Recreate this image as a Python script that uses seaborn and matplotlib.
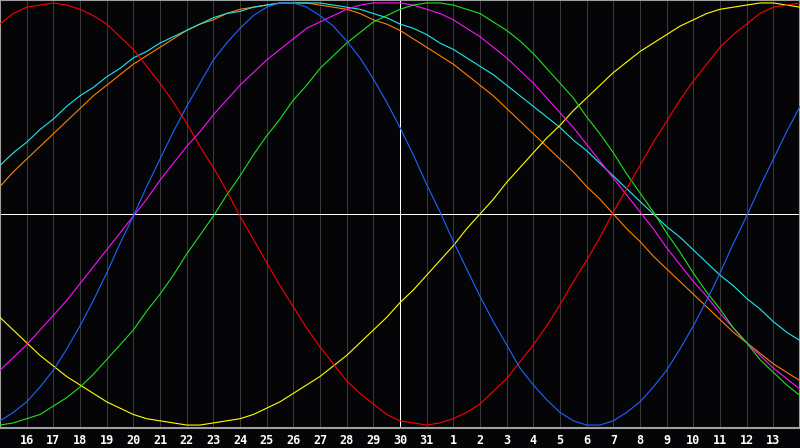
import pandas as pd
import matplotlib
matplotlib.use('Agg')
import matplotlib.pyplot as plt
import seaborn as sns

# half-day steps on the x axis (30 = today, 32 = 1st of next month)
days = [15 + i / 2 for i in range(61)]
day_labels = ['16', '17', '18', '19', '20', '21', '22', '23', '24', '25', '26', '27', '28', '29', '30', '31',
              '1', '2', '3', '4', '5', '6', '7', '8', '9', '10', '11', '12', '13']
label_days = list(range(16, 45))
today = 30

# values, every half day from day 15 to day 45
physical = [-0.98, -0.94, -0.89, -0.82, -0.74, -0.64, -0.53, -0.41, -0.28, -0.14,
            -0.01, 0.13, 0.26, 0.39, 0.51, 0.62, 0.73, 0.81, 0.88, 0.94,
            0.98, 1.00, 1.00, 0.98, 0.94, 0.89, 0.82, 0.74, 0.64, 0.53,
            0.41, 0.28, 0.14, 0.01, -0.13, -0.26, -0.39, -0.51, -0.62, -0.73,
            -0.81, -0.88, -0.94, -0.98, -1.00, -1.00, -0.98, -0.94, -0.89, -0.82,
            -0.74, -0.64, -0.53, -0.41, -0.28, -0.14, -0.01, 0.13, 0.26, 0.39, 0.51]
emotional = [0.90, 0.95, 0.98, 0.99, 1.00, 0.99, 0.97, 0.94, 0.90, 0.84,
             0.78, 0.70, 0.62, 0.53, 0.43, 0.32, 0.22, 0.11, -0.01, -0.12,
             -0.23, -0.34, -0.44, -0.54, -0.63, -0.71, -0.79, -0.85, -0.90, -0.95,
             -0.98, -0.99, -1.00, -0.99, -0.97, -0.94, -0.90, -0.84, -0.78, -0.70,
             -0.62, -0.53, -0.43, -0.32, -0.22, -0.11, 0.01, 0.12, 0.23, 0.34,
             0.44, 0.54, 0.63, 0.71, 0.79, 0.85, 0.90, 0.95, 0.98, 0.99, 1.00]
intellectual = [-1.00, -0.99, -0.97, -0.95, -0.91, -0.87, -0.82, -0.76, -0.69, -0.62,
                -0.55, -0.46, -0.38, -0.29, -0.19, -0.10, -0.01, 0.09, 0.18, 0.28,
                0.37, 0.45, 0.54, 0.61, 0.69, 0.75, 0.81, 0.86, 0.91, 0.94,
                0.97, 0.99, 1.00, 1.00, 0.99, 0.97, 0.95, 0.91, 0.87, 0.82,
                0.76, 0.69, 0.62, 0.55, 0.46, 0.38, 0.29, 0.19, 0.10, 0.01,
                -0.09, -0.18, -0.28, -0.37, -0.45, -0.54, -0.61, -0.69, -0.75, -0.81, -0.86]
intuitive = [-0.74, -0.68, -0.62, -0.55, -0.48, -0.41, -0.33, -0.25, -0.17, -0.09,
             -0.01, 0.07, 0.16, 0.24, 0.32, 0.39, 0.47, 0.54, 0.61, 0.67,
             0.73, 0.78, 0.83, 0.88, 0.91, 0.94, 0.97, 0.99, 1.00, 1.00,
             1.00, 0.99, 0.97, 0.95, 0.92, 0.88, 0.84, 0.79, 0.74, 0.68,
             0.62, 0.55, 0.48, 0.41, 0.33, 0.25, 0.17, 0.09, 0.01, -0.07,
             -0.16, -0.24, -0.32, -0.39, -0.47, -0.54, -0.61, -0.67, -0.73, -0.78, -0.83]
aesthetic = [-0.49, -0.55, -0.61, -0.67, -0.72, -0.77, -0.81, -0.85, -0.89, -0.92,
             -0.95, -0.97, -0.98, -0.99, -1.00, -1.00, -0.99, -0.98, -0.97, -0.95,
             -0.92, -0.89, -0.85, -0.81, -0.77, -0.72, -0.67, -0.61, -0.55, -0.49,
             -0.42, -0.36, -0.29, -0.22, -0.15, -0.07, 0.00, 0.07, 0.15, 0.22,
             0.29, 0.36, 0.42, 0.49, 0.55, 0.61, 0.67, 0.72, 0.77, 0.81,
             0.85, 0.89, 0.92, 0.95, 0.97, 0.98, 0.99, 1.00, 1.00, 0.99, 0.98]
awareness = [0.13, 0.20, 0.26, 0.32, 0.38, 0.44, 0.50, 0.56, 0.61, 0.66,
             0.71, 0.75, 0.79, 0.83, 0.87, 0.90, 0.92, 0.95, 0.97, 0.98,
             0.99, 1.00, 1.00, 1.00, 0.99, 0.98, 0.97, 0.95, 0.92, 0.90,
             0.87, 0.83, 0.79, 0.75, 0.71, 0.66, 0.61, 0.56, 0.50, 0.44,
             0.38, 0.32, 0.26, 0.20, 0.13, 0.07, 0.00, -0.07, -0.13, -0.20,
             -0.26, -0.32, -0.38, -0.44, -0.50, -0.56, -0.61, -0.66, -0.71, -0.75, -0.79]
spiritual = [0.23, 0.29, 0.34, 0.40, 0.45, 0.51, 0.56, 0.60, 0.65, 0.69,
             0.74, 0.77, 0.81, 0.84, 0.87, 0.90, 0.93, 0.95, 0.96, 0.98,
             0.99, 1.00, 1.00, 1.00, 1.00, 0.99, 0.98, 0.97, 0.95, 0.93,
             0.90, 0.88, 0.85, 0.81, 0.78, 0.74, 0.70, 0.66, 0.61, 0.56,
             0.51, 0.46, 0.41, 0.35, 0.30, 0.24, 0.18, 0.12, 0.06, 0.00,
             -0.06, -0.11, -0.17, -0.23, -0.29, -0.34, -0.40, -0.45, -0.51, -0.56, -0.60]

curves = ['awareness', 'spiritual', 'aesthetic', 'intuitive', 'intellectual', 'emotional', 'physical']
colors = {'awareness': '#ff8000', 'spiritual': '#20e8e8', 'aesthetic': '#ffff00', 'intuitive': '#ff10ff',
          'intellectual': '#20e020', 'emotional': '#ff0000', 'physical': '#1e64ff'}
values = {'physical': physical, 'emotional': emotional, 'intellectual': intellectual, 'intuitive': intuitive,
          'aesthetic': aesthetic, 'awareness': awareness, 'spiritual': spiritual}

# long form table for seaborn
df = pd.concat([pd.DataFrame({'day': days, 'value': values[c], 'curve': c}) for c in curves], ignore_index=True)

bg = '#050508'
fig = plt.figure(figsize=(8, 4.48), dpi=100, facecolor=bg)
ax = fig.add_axes([0, 20 / 448, 1, 428 / 448], facecolor=bg)

# day grid
for d in label_days:
    ax.axvline(d, color='#3a3a3a', lw=0.72, zorder=1, antialiased=False)
ax.axvline(today, color='white', lw=0.72, zorder=2, antialiased=False)
ax.axhline(0, color='white', lw=0.72, zorder=2, antialiased=False)

sns.lineplot(data=df, x='day', y='value', hue='curve', hue_order=curves, palette=colors,
             legend=False, linewidth=0.8, ax=ax, zorder=3)

ax.set_xlim(15, 45)
ax.set_ylim(-1.014, 1.014)
ax.set_yticks([])
ax.set_xticks(label_days)
ax.set_xticklabels(day_labels, color='white', fontsize=8.5, fontweight='bold', family='DejaVu Sans Mono')
ax.tick_params(axis='x', length=0, pad=4)
ax.set_xlabel('')
ax.set_ylabel('')
for s in ax.spines.values():
    s.set_color('#a0a0a0')
    s.set_linewidth(1.5)

fig.savefig('out.png', dpi=100, facecolor=bg)
plt.close()
